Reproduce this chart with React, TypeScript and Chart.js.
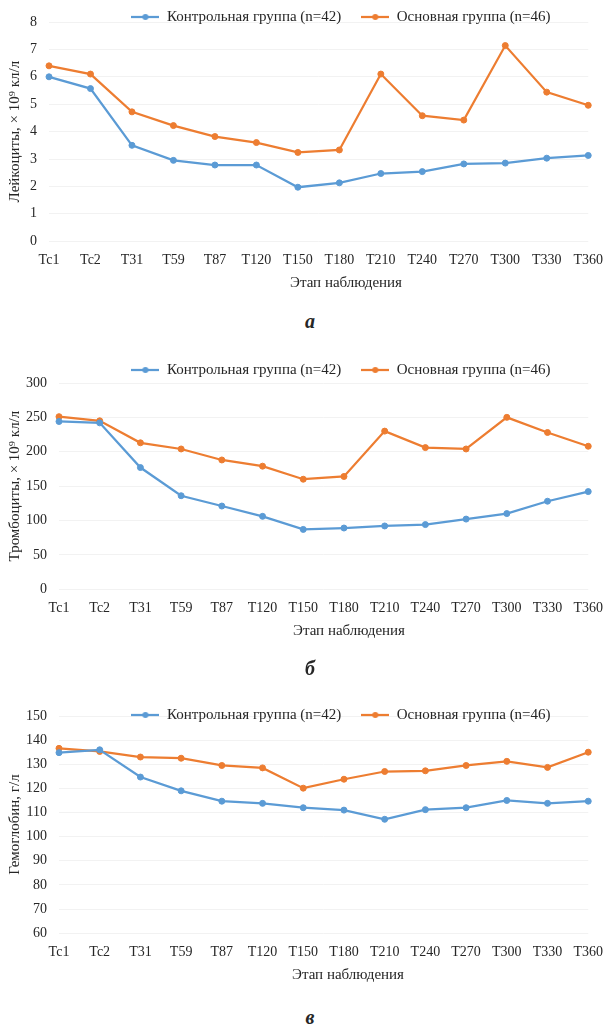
import React, { useEffect, useRef } from "react";
import Chart from "chart.js/auto";

const stages = ["Tc1", "Tc2", "T31", "T59", "T87", "T120", "T150", "T180", "T210", "T240", "T270", "T300", "T330", "T360"];
const seriesNames = ["Контрольная группа (n=42)", "Основная группа (n=46)"];
const xTitle = "Этап наблюдения";

const leukoControl = [6.0, 5.57, 3.5, 2.95, 2.78, 2.78, 1.97, 2.13, 2.47, 2.54, 2.82, 2.85, 3.03, 3.13];
const leukoMain = [6.4, 6.1, 4.72, 4.22, 3.82, 3.6, 3.24, 3.33, 6.1, 4.58, 4.42, 7.14, 5.44, 4.96];

const plateletControl = [244, 242, 177, 136, 121, 106, 87, 89, 92, 94, 102, 110, 128, 142];
const plateletMain = [251, 245, 213, 204, 188, 179, 160, 164, 230, 206, 204, 250, 228, 208];

const hbControl = [134.8, 136, 124.7, 119, 114.7, 113.8, 112, 111, 107.2, 111.2, 112, 115, 113.8, 114.7];
const hbMain = [136.6, 135.3, 133, 132.5, 129.5, 128.5, 120.1, 123.8, 127, 127.3, 129.5, 131.2, 128.7, 135];

const leukoTicks = { min: 0, max: 8, step: 1 };
const plateletTicks = { min: 0, max: 300, step: 50 };
const hbTicks = { min: 60, max: 150, step: 10 };

const BLUE = "#5B9BD5";
const ORANGE = "#ED7D31";
const TEXT = "#262626";
const FONT = "'Liberation Serif', 'Times New Roman', serif";

function makeIcon(color: string) {
  const c = document.createElement("canvas");
  c.width = 28;
  c.height = 10;
  const ctx = c.getContext("2d")!;
  ctx.strokeStyle = color;
  ctx.lineWidth = 2.25;
  ctx.beginPath();
  ctx.moveTo(0, 5);
  ctx.lineTo(28, 5);
  ctx.stroke();
  ctx.fillStyle = color;
  ctx.beginPath();
  ctx.arc(14, 5, 3, 0, Math.PI * 2);
  ctx.fill();
  return c;
}

// Moves the legend box and the bottom title box after layout (scales stay put).
const boxShift = {
  id: "boxShift",
  afterLayout(chart: any, _args: any, opts: any) {
    const l = chart.legend;
    if (l) {
      l.left += opts.dx || 0;
      l.right += opts.dx || 0;
      l.top += opts.dy || 0;
      l.bottom += opts.dy || 0;
    }
    const t = chart.titleBlock;
    if (t && opts.titleDx) {
      t.left += opts.titleDx;
      t.right += opts.titleDx;
    }
  },
};

type Cfg = {
  top: number;
  height: number;
  axisWidth: number;
  yTitle: string;
  ticks: { min: number; max: number; step: number };
  control: number[];
  main: number[];
  dx: number;
  dy: number;
  titleDx: number;
};

function LineChart({ cfg }: { cfg: Cfg }) {
  const ref = useRef<HTMLCanvasElement>(null);
  useEffect(() => {
    const icons = [makeIcon(BLUE), makeIcon(ORANGE)];
    const ds = (label: string, data: number[], color: string) => ({
      label,
      data,
      borderColor: color,
      backgroundColor: color,
      borderWidth: 2.25,
      pointRadius: 3,
      pointBorderWidth: 1,
      pointBackgroundColor: color,
      pointBorderColor: color,
      tension: 0,
    });
    const chart = new Chart(ref.current!, {
      type: "line",
      data: {
        labels: stages,
        datasets: [ds(seriesNames[0], cfg.control, BLUE), ds(seriesNames[1], cfg.main, ORANGE)],
      },
      plugins: [boxShift as any],
      options: {
        animation: false,
        responsive: false,
        layout: { padding: 0 },
        plugins: {
          boxShift: { dx: cfg.dx, dy: cfg.dy, titleDx: cfg.titleDx },
          tooltip: { enabled: false },
          title: {
            display: true,
            position: "bottom",
            text: xTitle,
            color: TEXT,
            font: { family: FONT, size: 15, weight: "normal" },
            padding: { top: 2, bottom: 4 },
          },
          legend: {
            position: "top",
            labels: {
              color: TEXT,
              font: { family: FONT, size: 15 },
              usePointStyle: true,
              pointStyleWidth: 28,
              padding: 20,
              generateLabels: (ch: any) =>
                (Chart.defaults.plugins.legend.labels.generateLabels as any)(ch).map((l: any, i: number) => ({
                  ...l,
                  pointStyle: icons[i],
                })),
            },
          },
        } as any,
        scales: {
          x: {
            offset: false,
            grid: { display: false, drawTicks: true, tickLength: 8 },
            border: { display: false },
            ticks: {
              autoSkip: false,
              maxRotation: 0,
              padding: 3,
              color: TEXT,
              font: { family: FONT, size: 14 },
            },
          },
          y: {
            min: cfg.ticks.min,
            max: cfg.ticks.max,
            afterFit: (scale: any) => {
              scale.width = cfg.axisWidth;
            },
            grid: { color: "#f2f2f2", drawTicks: false },
            border: { display: false },
            ticks: {
              stepSize: cfg.ticks.step,
              padding: 12,
              color: TEXT,
              font: { family: FONT, size: 14 },
            },
            title: {
              display: true,
              text: cfg.yTitle,
              color: TEXT,
              font: { family: FONT, size: 15 },
              padding: { top: 6, bottom: 0 },
            },
          },
        },
      } as any,
    });
    return () => chart.destroy();
  }, [cfg]);
  return (
    <canvas
      ref={ref}
      width={606}
      height={cfg.height}
      style={{ position: "absolute", left: 0, top: cfg.top, width: 606, height: cfg.height }}
    />
  );
}

const charts: Cfg[] = [
  { top: -23, height: 319, axisWidth: 49, yTitle: "Лейкоциты, × 10⁹ кл/л", ticks: leukoTicks, control: leukoControl, main: leukoMain, dx: 38, dy: 12.5, titleDx: 43 },
  { top: 338, height: 306, axisWidth: 59, yTitle: "Тромбоциты, × 10⁹ кл/л", ticks: plateletTicks, control: plateletControl, main: plateletMain, dx: 38, dy: 4.5, titleDx: 46 },
  { top: 671, height: 317, axisWidth: 59, yTitle: "Гемоглобин, г/л", ticks: hbTicks, control: hbControl, main: hbMain, dx: 38, dy: 16.5, titleDx: 45 },
];

const captions = [
  { text: "а", center: 321 },
  { text: "б", center: 668 },
  { text: "в", center: 1017 },
];

export default function App() {
  return (
    <div style={{ position: "absolute", left: 0, top: 0, width: 606, height: 1024, overflow: "hidden", background: "#fff" }}>
      {charts.map((c, i) => (
        <LineChart key={i} cfg={c} />
      ))}
      {captions.map((c, i) => (
        <div
          key={"c" + i}
          style={{
            position: "absolute",
            left: 0,
            width: 620,
            top: c.center - 12,
            height: 24,
            lineHeight: "24px",
            textAlign: "center",
            fontFamily: FONT,
            fontWeight: "bold",
            fontStyle: "italic",
            fontSize: 20,
            color: TEXT,
          }}
        >
          {c.text}
        </div>
      ))}
    </div>
  );
}
